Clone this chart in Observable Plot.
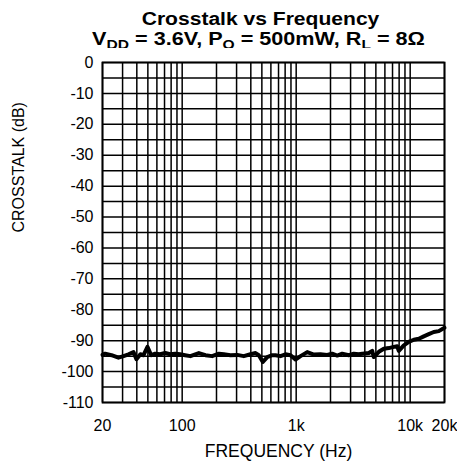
<!DOCTYPE html>
<html>
<head>
<meta charset="utf-8">
<script src="https://cdn.jsdelivr.net/npm/d3@7"></script>
<script src="https://cdn.jsdelivr.net/npm/@observablehq/plot@0.6"></script>
<style>
  html, body { margin: 0; padding: 0; background: #fff; }
  #wrap { position: relative; width: 457px; height: 470px; font-family: "Liberation Sans", Arial, sans-serif; color: #000; }
  .t { position: absolute; left: 0; width: 457px; text-align: center; font-weight: bold; font-size: 18px; line-height: 20px; white-space: nowrap; transform-origin: 228.5px 50%; }
  .t sub { font-size: 13px; vertical-align: baseline; position: relative; top: 3.5px; line-height: 0; }
  #t1 { top: 8.8px; transform: translateX(32px) scaleX(1.17); }
  #t2 { top: 29.3px; transform: translateX(30px) scaleX(1.2); }
  #chart { position: absolute; left: 0; top: 48px; }
</style>
</head>
<body>
<div id="wrap">
  <div class="t" id="t1">Crosstalk vs Frequency</div>
  <div class="t" id="t2">V<sub>DD</sub> = 3.6V, P<sub>O</sub> = 500mW, R<sub>L</sub> = 8Ω</div>
  <div id="chart"></div>
</div>
<script>
const freq = [20, 21.1, 24, 27.6, 30.6, 33.8, 37.4, 39.7, 43, 45.8, 49.6, 53.5, 58, 64, 71, 78.5, 87, 96, 106, 118, 140, 160, 183, 210, 232, 265, 304, 347, 397, 440, 470, 510, 557, 616, 658, 728, 806, 892, 986, 1092, 1250, 1430, 1634, 1870, 2070, 2290, 2534, 2896, 3200, 3540, 3794, 4336, 4645, 4795, 5308, 5870, 6490, 7180, 7690, 7946, 8790, 9720, 10760, 11900, 13160, 14560, 16100, 17820, 20000];
const crosstalk = [-94.6, -94.2, -94.7, -95.5, -95.0, -94.4, -93.7, -96.0, -94.4, -94.7, -92.0, -94.7, -94.2, -94.4, -94.0, -94.4, -94.2, -94.4, -94.7, -95.0, -94.0, -94.7, -95.0, -94.2, -94.4, -94.7, -94.6, -95.0, -94.4, -94.0, -94.7, -96.9, -95.3, -94.7, -94.7, -95.0, -94.4, -94.7, -96.1, -95.0, -93.7, -94.5, -94.4, -94.6, -94.2, -94.8, -94.2, -94.7, -94.2, -94.4, -94.2, -94.0, -93.3, -95.3, -93.6, -92.6, -92.4, -92.0, -91.8, -93.3, -91.5, -90.4, -89.7, -89.4, -88.6, -87.9, -87.2, -86.9, -85.8];

const xTicks = [20, 100, 1000, 10000, 20000];
const xTickLabels = ["20", "100", "1k", "10k", "20k"];
const xGrid = [20, 30, 40, 50, 60, 70, 80, 90, 100, 200, 300, 400, 500, 600, 700, 800, 900, 1000, 2000, 3000, 4000, 5000, 6000, 7000, 8000, 9000, 10000, 20000];
const yTicks = [0, -10, -20, -30, -40, -50, -60, -70, -80, -90, -100, -110];
const yGrid = [0, -5, -10, -15, -20, -25, -30, -35, -40, -45, -50, -55, -60, -65, -70, -75, -80, -85, -90, -95, -100, -105, -110];
const xLabel = "FREQUENCY (Hz)";
const yLabel = "CROSSTALK (dB)";

const data = freq.map((f, i) => ({f, v: crosstalk[i]}));

const chart = Plot.plot({
  width: 457,
  height: 422,
  marginTop: 14,
  marginBottom: 68,
  marginLeft: 102,
  marginRight: 13,
  style: { fontFamily: '"Liberation Sans", Arial, sans-serif', color: "#000", background: "#fff", overflow: "visible" },
  x: { type: "log", domain: [20, 20000] },
  y: { domain: [-110, 0] },
  marks: [
    Plot.ruleX(xGrid, { stroke: "#000", strokeWidth: 1.5 }),
    Plot.ruleY(yGrid, { stroke: "#000", strokeWidth: 1.5 }),
    Plot.axisX({ ticks: xTicks, tickFormat: (d) => xTickLabels[xTicks.indexOf(d)], tickSize: 0, tickPadding: 17, fontSize: 16, label: null }),
    Plot.axisY({ ticks: yTicks, tickFormat: (d) => String(d), tickSize: 0, tickPadding: 9, fontSize: 16, label: null }),
    Plot.frame({ stroke: "#000", strokeWidth: 1.8 }),
    Plot.line(data, { x: "f", y: "v", stroke: "#000", strokeWidth: 4, strokeLinejoin: "round", strokeLinecap: "round" }),
    Plot.text([xLabel], { frameAnchor: "bottom", dy: 54, dx: 5, text: (d) => d, fontSize: 17.5 }),
    Plot.text([yLabel], { frameAnchor: "left", dx: -84, rotate: -90, text: (d) => d, fontSize: 16 })
  ]
});
document.getElementById("chart").appendChild(chart);
</script>
</body>
</html>
